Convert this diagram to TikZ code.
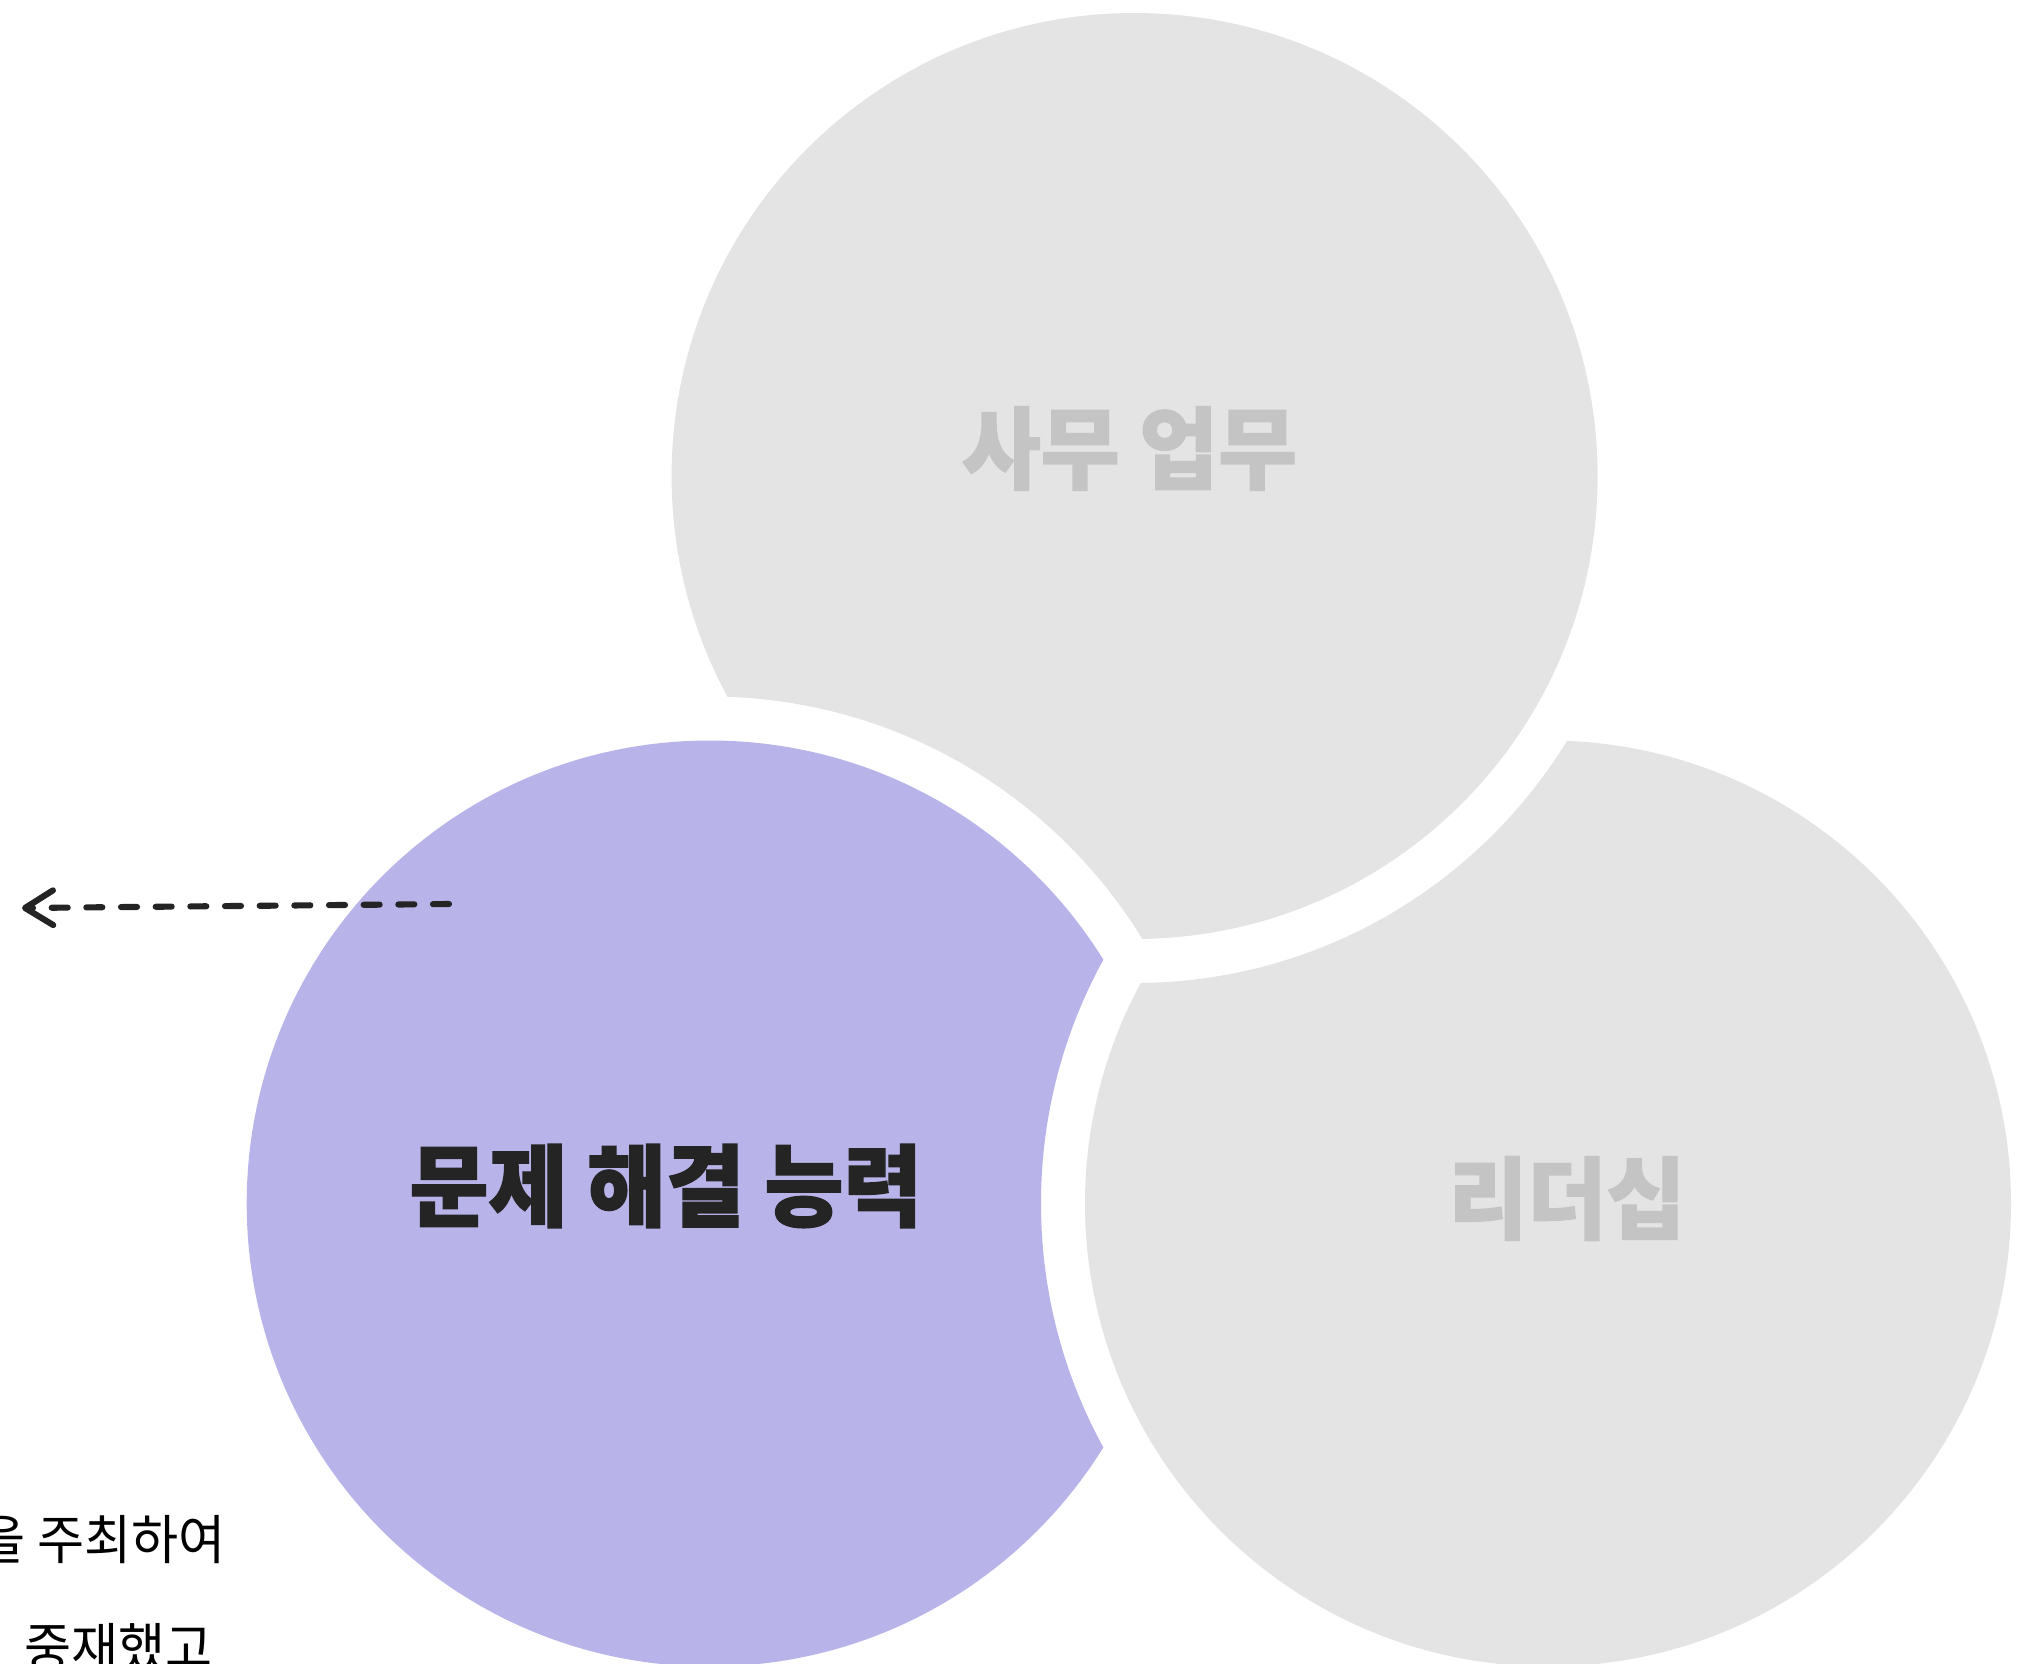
\documentclass[tikz,border=0pt]{standalone}
\usepackage{fontspec}
\newfontfamily\krfont[FakeStretch=0.96, BoldFeatures={FakeBold=1.5}]{Noto Sans CJK KR}
\usetikzlibrary{arrows.meta}
\definecolor{venngrey}{RGB}{228,228,228}
\definecolor{vennpurple}{RGB}{184,179,233}
\definecolor{labelgrey}{RGB}{196,196,196}
\definecolor{labeldark}{RGB}{36,36,36}
\tikzset{every picture/.style={line width=0.75pt}}
\tikzset{
	venn label/.style={inner sep=0pt, font=\krfont\bfseries\fontsize{67}{67}\selectfont},
	body text/.style={inner sep=0pt, anchor=east, text=black, font=\krfont\fontsize{40}{40}\selectfont},
	hand arrow/.style={draw=labeldark, line width=4.6pt, line cap=round, dash pattern=on 12pt off 14pt, -{Straight Barb[length=21pt,width=26pt,round]}}}

\begin{document}
\begin{tikzpicture}[x=0.75pt,y=0.75pt,yscale=-1,xscale=1]
	\useasboundingbox (0,0) rectangle (2025,1664);
	\coordinate (office c) at (1134.6,476);
	\coordinate (problem c) at (709.7,1203.5);
	\coordinate (leader c) at (1548,1203.5);

	%Shape: Circle [top, cut by the left one]
	\begin{scope}[even odd rule]
		\clip (-50,-50) rectangle (2100,1750) (problem c) circle (507);
		\fill [venngrey] (office c) circle (463);
	\end{scope}
	%Shape: Circle [right, cut by the top one]
	\begin{scope}[even odd rule]
		\clip (-50,-50) rectangle (2100,1750) (office c) circle (507);
		\fill [venngrey] (leader c) circle (463);
	\end{scope}
	%Shape: Circle [left, cut by the right one]
	\begin{scope}[even odd rule]
		\clip (-50,-50) rectangle (2100,1750) (leader c) circle (507);
		\fill [vennpurple] (problem c) circle (463);
	\end{scope}

	% Text Node
	\node [venn label, text=labelgrey] (office) at (1129.5,448.5) {사무 업무};
	% Text Node
	\node [venn label, text=labeldark] (problem) at (666,1186) {문제 해결 능력};
	% Text Node
	\node [venn label, text=labelgrey] (leader) at (1567,1198.5) {리더십};

	% Text Node
	\node [body text] (line one) at (226,1540) {을 주최하여};
	% Text Node
	\node [body text] (line two) at (213,1648) {중재했고};

	%Straight Lines [dashed arrow]
	\coordinate (arrow tail) at (449,904);
	\coordinate (arrow tip) at (22,908);
	\draw [hand arrow] (arrow tail) -- (arrow tip);

\end{tikzpicture}
\end{document}
